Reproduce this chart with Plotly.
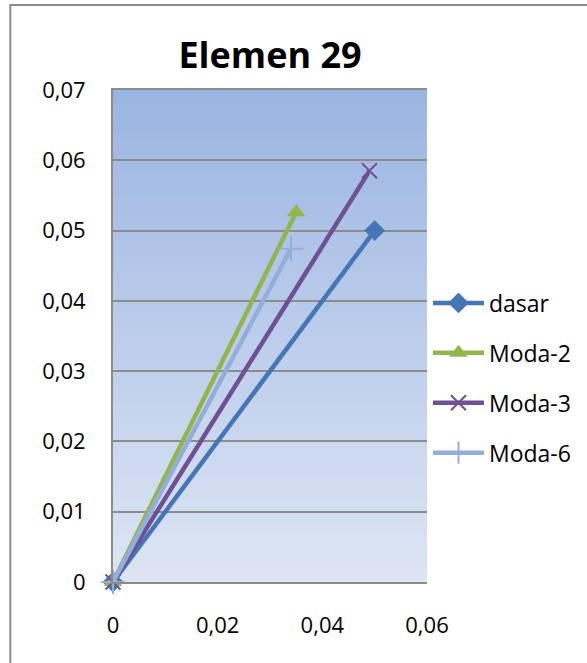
import plotly.graph_objects as go

# ---- data ----
series_names = ["dasar", "Moda-2", "Moda-3", "Moda-6"]
x_dasar = [0, 0.05]
y_dasar = [0, 0.05]
x_moda2 = [0, 0.035]
y_moda2 = [0, 0.0526]
x_moda3 = [0, 0.049]
y_moda3 = [0, 0.0585]
x_moda6 = [0, 0.034]
y_moda6 = [0, 0.0474]

x_ticks = [0, 0.02, 0.04, 0.06]
x_tick_labels = ["0", "0,02", "0,04", "0,06"]
y_ticks = [0, 0.01, 0.02, 0.03, 0.04, 0.05, 0.06, 0.07]
y_tick_labels = ["0", "0,01", "0,02", "0,03", "0,04", "0,05", "0,06", "0,07"]

colors = ["#4576B5", "#93B54C", "#6F5193", "#93AEDB"]
W, H = 587, 663
ML, MR, MT, MB = 113, 159, 90, 81
PW, PH = W - ML - MR, H - MT - MB

fig = go.Figure()
xs = [x_dasar, x_moda2, x_moda3, x_moda6]
ys = [y_dasar, y_moda2, y_moda3, y_moda6]
markers = [
    dict(symbol="diamond", size=16, color=colors[0]),
    dict(symbol="triangle-up", size=16, color=colors[1]),
    dict(symbol="x-thin", size=15, color=colors[2], line=dict(width=2, color=colors[2])),
    dict(symbol="cross-thin", size=17, color=colors[3], line=dict(width=2, color=colors[3])),
]
for i in range(4):
    fig.add_trace(go.Scatter(
        x=xs[i], y=ys[i], name=series_names[i], mode="lines+markers",
        line=dict(color=colors[i], width=4.5), marker=markers[i],
        legendgroup=series_names[i], cliponaxis=False,
    ))

# gradient background bands (plot area)
top = (0x9B, 0xB5, 0xE2)
bot = (0xDD, 0xE5, 0xF3)
N = 60
for k in range(N):
    t = k / (N - 1)
    c = tuple(round(bot[j] + (top[j] - bot[j]) * t) for j in range(3))
    fig.add_shape(type="rect", xref="x domain", yref="y domain",
                  x0=0, x1=1, y0=k / N, y1=(k + 1) / N + 0.002,
                  fillcolor="rgb(%d,%d,%d)" % c, line=dict(width=0), layer="below")

# outer chart border
fig.add_shape(type="rect", xref="paper", yref="paper",
              x0=(10 - ML) / PW, x1=(W + 20 - ML) / PW,
              y0=-(MB + 20) / PH, y1=1 + (MT - 5) / PH,
              line=dict(color="#8A8A8A", width=2), fillcolor="rgba(0,0,0,0)", layer="above")

font_family = "Open Sans"
fig.update_layout(
    width=W, height=H,
    margin=dict(l=ML, r=MR, t=MT, b=MB, pad=0),
    paper_bgcolor="white", plot_bgcolor="rgba(0,0,0,0)",
    font=dict(family=font_family, color="black", size=22),
    title=dict(text="<b>Elemen 29</b>", x=0.5, xref="paper", xanchor="center",
               y=1 - 55 / H, yref="container", yanchor="middle",
               font=dict(size=36, family=font_family, color="black")),
    showlegend=True,
    legend=dict(x=1.0, xanchor="left", y=1 - (378 - MT) / PH, yanchor="middle",
                font=dict(size=23, family=font_family), bgcolor="rgba(0,0,0,0)",
                tracegroupgap=17, itemwidth=51, borderwidth=0),
)
fig.update_xaxes(range=[0, 0.06], tickvals=x_ticks, ticktext=x_tick_labels,
                 showgrid=False, zeroline=False, showline=True, linecolor="#8C8C8C",
                 linewidth=2, mirror=True, ticks="", ticklabelstandoff=23,
                 tickfont=dict(size=22))
fig.update_yaxes(range=[0, 0.07], tickvals=y_ticks, ticktext=y_tick_labels,
                 showgrid=True, gridcolor="#8C8C8C", gridwidth=1.5, zeroline=False,
                 showline=True, linecolor="#8C8C8C", linewidth=2, mirror=False,
                 ticks="", ticklabelstandoff=21, tickfont=dict(size=22))

fig.write_html("out.html")
